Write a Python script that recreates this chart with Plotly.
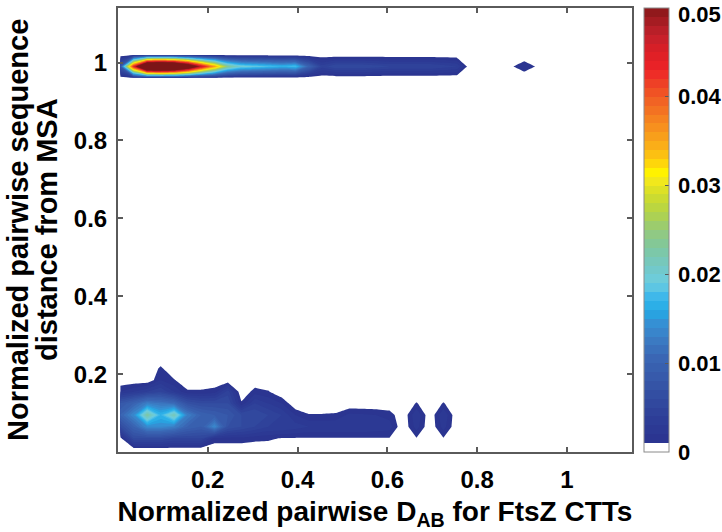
import plotly.graph_objects as go

# grid of bin centres (x: normalized pairwise D_AB, y: normalized sequence distance)
x_bins = [0.005, 0.035, 0.065, 0.095, 0.125, 0.155, 0.185, 0.215, 0.245, 0.275,
          0.305, 0.335, 0.365, 0.395, 0.425, 0.455, 0.485, 0.515, 0.545, 0.575,
          0.605, 0.635, 0.665, 0.695, 0.725, 0.755, 0.785, 0.815, 0.845, 0.875,
          0.905, 0.935]
y_bins = [0.005, 0.035, 0.065, 0.095, 0.125, 0.155, 0.185, 0.215, 0.245,
          0.96, 0.99, 1.02]

# density rows (one value per x bin)
row_005 = [0] * 32
row_035 = [0.0005, 0.006, 0.006, 0.006, 0.005, 0.005, 0.005, 0.0017, 0.0017, 0.0017,
           0.0014, 0.0013, 0.0009, 0.0009, 0.0009, 0.0009, 0.0009, 0.0009, 0.0009, 0.0009,
           0.0009, 0, 0.0009, 0, 0.0009, 0, 0, 0, 0, 0, 0, 0]
row_065 = [0.006, 0.010, 0.014, 0.014, 0.013, 0.010, 0.009, 0.014, 0.007, 0.006,
           0.005, 0.004, 0.004, 0.0035, 0.003, 0.003, 0.003, 0.003, 0.003, 0.0028,
           0.0025, 0, 0.0025, 0, 0.0025, 0, 0, 0, 0, 0, 0, 0]
row_095 = [0.010, 0.014, 0.023, 0.017, 0.022, 0.013, 0.010, 0.009, 0.008, 0.006,
           0.006, 0.005, 0.004, 0.002, 0.0011, 0.0011, 0.0012, 0.0023, 0.0022, 0.002,
           0.0016, 0, 0.003, 0, 0.003, 0, 0, 0, 0, 0, 0, 0]
row_125 = [0.008, 0.010, 0.013, 0.012, 0.011, 0.007, 0.006, 0.006, 0.006, 0.0012,
           0.004, 0.003, 0.002, 0, 0, 0, 0, 0, 0, 0,
           0, 0, 0.0011, 0, 0.0011, 0, 0, 0, 0, 0, 0, 0]
row_155 = [0.002, 0.003, 0.004, 0.005, 0.003, 0.0012, 0.0012, 0.0015, 0.0045, 0,
           0.0015, 0.0011, 0, 0, 0, 0, 0, 0, 0, 0,
           0, 0, 0, 0, 0, 0, 0, 0, 0, 0, 0, 0]
row_185 = [0, 0, 0, 0.002, 0.0011, 0, 0, 0, 0, 0,
           0, 0, 0, 0, 0, 0, 0, 0, 0, 0,
           0, 0, 0, 0, 0, 0, 0, 0, 0, 0, 0, 0]
row_215 = [0, 0, 0, 0.0012, 0, 0, 0, 0, 0, 0,
           0, 0, 0, 0, 0, 0, 0, 0, 0, 0,
           0, 0, 0, 0, 0, 0, 0, 0, 0, 0, 0, 0]
row_245 = [0] * 32
row_096 = [0] * 32
row_099 = [0.008, 0.044, 0.075, 0.078, 0.074, 0.062, 0.047, 0.036, 0.024, 0.020,
           0.019, 0.018, 0.017, 0.018, 0.010, 0.0045, 0.006, 0.006, 0.006, 0.0055,
           0.005, 0.005, 0.005, 0.005, 0.0045, 0.004, 0, 0, 0, 0.0008, 0.0018, 0.0008]
row_102 = [0] * 32

z_rows = [row_005, row_035, row_065, row_095, row_125, row_155, row_185, row_215,
          row_245, row_096, row_099, row_102]

x_tick_vals = [0.2, 0.4, 0.6, 0.8, 1]
x_tick_text = ["0.2", "0.4", "0.6", "0.8", "1"]
y_tick_vals = [0.2, 0.4, 0.6, 0.8, 1]
y_tick_text = ["0.2", "0.4", "0.6", "0.8", "1"]
cb_tick_vals = [0, 0.01, 0.02, 0.03, 0.04, 0.05]
cb_tick_text = ["0", "0.01", "0.02", "0.03", "0.04", "0.05"]
cb_max = 0.05

x_title = 'Normalized pairwise D<sub>AB</sub> for FtsZ CTTs'
y_title_lines = ['Normalized pairwise sequence', 'distance from MSA']

# ---- colour map (jet-like, as printed) ----
cstops = [
    (0.0015, '#2b3591'), (0.004, '#2e3f98'), (0.007, '#3451a4'), (0.0105, '#3a66b4'),
    (0.013, '#3b7fc6'), (0.0145, '#3590d4'), (0.016, '#23abe6'), (0.0175, '#3fb8ea'),
    (0.019, '#6ccde0'), (0.021, '#74c8c4'), (0.023, '#7fc8a0'), (0.025, '#95c97a'),
    (0.027, '#b3d447'), (0.029, '#d3dd2a'), (0.0305, '#f1e81c'), (0.0315, '#fff200'),
    (0.033, '#fdc810'), (0.035, '#f9a61a'), (0.037, '#f6891f'), (0.039, '#f26b23'),
    (0.041, '#ef4a25'), (0.043, '#ed2327'), (0.045, '#dc1f26'), (0.047, '#c2202b'),
    (0.049, '#9b1b1f'), (0.0505, '#7c1517'),
]


def hex2rgb(h):
    return tuple(int(h[i:i + 2], 16) for i in (1, 3, 5))


def color_at(zv):
    if zv <= cstops[0][0]:
        return 'rgb(%d,%d,%d)' % hex2rgb(cstops[0][1])
    for (z0, c0), (z1, c1) in zip(cstops[:-1], cstops[1:]):
        if z0 <= zv <= z1:
            t = (zv - z0) / (z1 - z0)
            a, b = hex2rgb(c0), hex2rgb(c1)
            return 'rgb(%d,%d,%d)' % tuple(round(a[k] + t * (b[k] - a[k])) for k in range(3))
    return 'rgb(%d,%d,%d)' % hex2rgb(cstops[-1][1])


n_levels = 50
band_colors = ['rgb(255,255,255)'] + [color_at(0.001 * j + 0.0005) for j in range(1, n_levels + 1)]
contour_scale = [[j / n_levels, band_colors[j]] for j in range(n_levels + 1)]
cb_scale = []
for j in range(n_levels):
    cb_scale.append([j / n_levels, band_colors[j]])
    cb_scale.append([(j + 1) / n_levels, band_colors[j]])

FONT = "Liberation Sans"
AX = '#5a5a5a'
TICKFONT = dict(family=FONT, size=24, color='black', weight='bold')
CBFONT = dict(family=FONT, size=22, color='black', weight='bold')
TITLEFONT = dict(family=FONT, size=28, color='black', weight='bold')
YTITLEFONT = dict(family=FONT, size=29, color='black', weight='bold')

fig = go.Figure()
fig.add_trace(go.Contour(
    x=x_bins, y=y_bins, z=z_rows,
    contours=dict(start=0.001, end=0.05, size=0.001, coloring='fill', showlines=False),
    line=dict(width=0, smoothing=0),
    colorscale=contour_scale, showscale=False, hoverinfo='skip',
))
fig.add_trace(go.Scatter(
    x=[None], y=[None], mode='markers', hoverinfo='skip', showlegend=False,
    marker=dict(color=[0.0], colorscale=cb_scale, cmin=0, cmax=cb_max, showscale=True,
                colorbar=dict(thickness=25, thicknessmode='pixels', len=1, lenmode='fraction',
                              x=1.0233, xanchor='left', xpad=0, y=0.5, yanchor='middle', ypad=0,
                              outlinewidth=1, outlinecolor='#8a8a8a',
                              tickvals=cb_tick_vals, showticklabels=False,
                              ticks='inside', ticklen=4, tickwidth=1, tickcolor=AX)),
))

axis_common = dict(ticks='inside', ticklen=5, tickwidth=1.5, tickcolor=AX,
                   showline=True, linewidth=2, linecolor=AX, mirror='ticks',
                   showgrid=False, zeroline=False, automargin=False, tickfont=TICKFONT)

annotations = []
# colour-bar labels
for v, t in zip(cb_tick_vals, cb_tick_text):
    is_top = v >= cb_max
    annotations.append(dict(text=t, xref='paper', yref='paper', x=1.0855, y=v / cb_max,
                            xanchor='left', yanchor='top' if is_top else 'middle',
                            yshift=8 if is_top else 0,
                            showarrow=False, font=CBFONT))
# two-line y-axis title
for line, shift in zip(y_title_lines, [-100, -71]):
    annotations.append(dict(text=line, xref='paper', yref='paper', x=0, y=0.5,
                            xshift=shift, xanchor='center', yanchor='middle',
                            textangle=-90, showarrow=False, font=YTITLEFONT))

fig.update_layout(
    width=722, height=532,
    margin=dict(l=118, r=90, t=8, b=80),
    paper_bgcolor='white', plot_bgcolor='white',
    showlegend=False,
    xaxis=dict(range=[0, 1.145], tickvals=x_tick_vals, ticktext=x_tick_text,
               ticklabelstandoff=5,
               title=dict(text=x_title, font=TITLEFONT, standoff=10),
               **axis_common),
    yaxis=dict(range=[0, 1.14], tickvals=y_tick_vals, ticktext=y_tick_text,
               ticklabelstandoff=4,
               **axis_common),
    annotations=annotations,
)

fig.write_html("out.html", config={'displayModeBar': False},
               post_script="document.body.style.margin='0px';")
